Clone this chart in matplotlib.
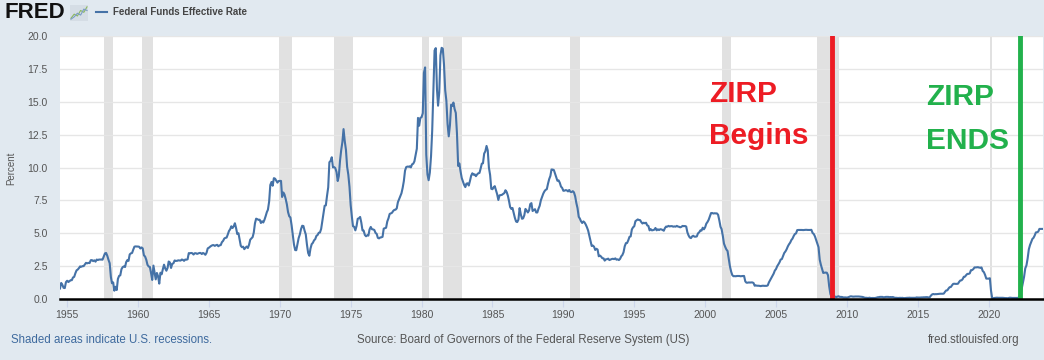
import numpy as np
import pandas as pd
import matplotlib
matplotlib.use("Agg")
import matplotlib.pyplot as plt

# monthly effective fed funds rate, Jul 1954 onwards
rates_1950s = [
    0.80, 1.22, 1.07, 0.85, 0.83, 1.28,
    1.39, 1.29, 1.35, 1.43, 1.43, 1.64, 1.68, 1.96, 2.18, 2.24, 2.35, 2.48,
    2.45, 2.50, 2.50, 2.62, 2.75, 2.71, 2.75, 2.73, 2.95, 2.96, 2.88, 2.94,
    2.84, 3.00, 2.96, 3.00, 3.00, 3.00, 2.99, 3.24, 3.47, 3.50, 3.28, 2.98,
    2.72, 1.67, 1.20, 1.26, 0.63, 0.93, 0.68, 1.53, 1.76, 1.80, 2.27, 2.42,
    2.48, 2.43, 2.80, 2.96, 2.90, 3.39, 3.47, 3.50, 3.76, 3.98, 4.00, 3.99,
]
rates_1960s = [
    3.99, 3.97, 3.84, 3.92, 3.85, 3.32, 3.23, 2.98, 2.60, 2.47, 2.44, 1.98,
    1.45, 2.54, 2.02, 1.49, 1.98, 1.73, 1.17, 2.00, 1.88, 2.26, 2.61, 2.33,
    2.15, 2.37, 2.85, 2.78, 2.36, 2.68, 2.71, 2.93, 2.90, 2.90, 2.94, 2.93,
    2.92, 3.00, 2.98, 2.90, 3.00, 2.99, 3.02, 3.49, 3.48, 3.50, 3.48, 3.38,
    3.48, 3.48, 3.43, 3.47, 3.50, 3.50, 3.42, 3.50, 3.45, 3.36, 3.52, 3.85,
    3.90, 3.98, 4.04, 4.09, 4.10, 4.04, 4.09, 4.12, 4.01, 4.08, 4.10, 4.32,
    4.42, 4.60, 4.65, 4.67, 4.90, 5.17, 5.30, 5.53, 5.40, 5.53, 5.76, 5.40,
    4.94, 5.00, 4.53, 4.05, 3.94, 3.98, 3.79, 3.90, 3.99, 3.88, 4.13, 4.51,
    4.61, 4.71, 5.05, 5.76, 6.11, 6.07, 6.02, 6.03, 5.78, 5.91, 5.82, 6.02,
    6.30, 6.61, 6.79, 7.41, 8.67, 8.90, 8.61, 9.19, 9.15, 9.00, 8.85, 8.97,
]
rates_1970s = [
    8.98, 8.98, 7.76, 8.10, 7.95, 7.61, 7.21, 6.61, 6.29, 6.20, 5.60, 4.90,
    4.14, 3.72, 3.71, 4.16, 4.63, 4.91, 5.31, 5.57, 5.55, 5.20, 4.91, 4.14,
    3.50, 3.29, 3.83, 4.17, 4.27, 4.46, 4.55, 4.80, 4.87, 5.04, 5.06, 5.33,
    5.94, 6.58, 7.09, 7.12, 7.84, 8.49, 10.40, 10.50, 10.78, 10.01, 10.03, 9.95,
    9.65, 8.97, 9.35, 10.51, 11.31, 11.93, 12.92, 12.01, 11.34, 10.06, 9.45, 8.53,
    7.13, 6.24, 5.54, 5.49, 5.22, 5.55, 6.10, 6.14, 6.24, 5.82, 5.22, 5.20,
    4.87, 4.77, 4.84, 4.82, 5.29, 5.48, 5.31, 5.29, 5.25, 5.03, 4.95, 4.65,
    4.61, 4.68, 4.69, 4.73, 5.35, 5.39, 5.42, 5.90, 6.14, 6.47, 6.51, 6.56,
    6.70, 6.78, 6.79, 6.89, 7.36, 7.60, 7.81, 8.04, 8.45, 8.96, 9.76, 10.03,
    10.07, 10.06, 10.09, 10.01, 10.24, 10.29, 10.47, 10.94, 11.43, 13.77, 13.18, 13.78,
]
rates_1980s = [
    13.82, 14.13, 17.19, 17.61, 10.98, 9.47, 9.03, 9.61, 10.87, 12.81, 15.85, 18.90,
    19.08, 15.93, 14.70, 15.72, 18.52, 19.10, 19.04, 17.82, 15.87, 15.08, 13.31, 12.37,
    13.22, 14.78, 14.68, 14.94, 14.45, 14.15, 12.59, 10.12, 10.31, 9.71, 9.20, 8.95,
    8.68, 8.51, 8.77, 8.80, 8.63, 8.98, 9.37, 9.56, 9.45, 9.48, 9.34, 9.47,
    9.56, 9.59, 9.91, 10.29, 10.32, 11.06, 11.23, 11.64, 11.30, 9.99, 9.43, 8.38,
    8.35, 8.50, 8.58, 8.27, 7.97, 7.53, 7.88, 7.90, 7.92, 7.99, 8.05, 8.27,
    8.14, 7.86, 7.48, 6.99, 6.85, 6.92, 6.56, 6.17, 5.89, 5.85, 6.04, 6.91,
    6.43, 6.10, 6.13, 6.37, 6.85, 6.73, 6.58, 6.73, 7.22, 7.29, 6.69, 6.77,
    6.83, 6.58, 6.58, 6.87, 7.09, 7.51, 7.75, 8.01, 8.19, 8.30, 8.35, 8.76,
    9.12, 9.36, 9.85, 9.84, 9.81, 9.53, 9.24, 8.99, 9.02, 8.84, 8.55, 8.45,
]
rates_1990s = [
    8.23, 8.24, 8.28, 8.26, 8.18, 8.29, 8.15, 8.13, 8.20, 8.11, 7.81, 7.31,
    6.91, 6.25, 6.12, 5.91, 5.78, 5.90, 5.82, 5.66, 5.45, 5.21, 4.81, 4.43,
    4.03, 4.06, 3.98, 3.73, 3.82, 3.76, 3.25, 3.30, 3.22, 3.10, 3.09, 2.92,
    3.02, 3.03, 3.07, 2.96, 3.00, 3.04, 3.06, 3.03, 3.09, 2.99, 3.02, 2.96,
    3.05, 3.25, 3.34, 3.56, 4.01, 4.25, 4.26, 4.47, 4.73, 4.76, 5.29, 5.45,
    5.53, 5.92, 5.98, 6.05, 6.01, 6.00, 5.85, 5.74, 5.80, 5.76, 5.80, 5.60,
    5.56, 5.22, 5.31, 5.22, 5.24, 5.27, 5.40, 5.22, 5.30, 5.24, 5.31, 5.29,
    5.25, 5.19, 5.39, 5.51, 5.50, 5.56, 5.52, 5.54, 5.54, 5.50, 5.52, 5.50,
    5.56, 5.51, 5.49, 5.45, 5.49, 5.56, 5.54, 5.55, 5.51, 5.07, 4.83, 4.68,
    4.63, 4.76, 4.81, 4.74, 4.74, 4.76, 4.99, 5.07, 5.22, 5.20, 5.42, 5.30,
]
rates_2000s = [
    5.45, 5.73, 5.85, 6.02, 6.27, 6.53, 6.54, 6.50, 6.52, 6.51, 6.51, 6.40,
    5.98, 5.49, 5.31, 4.80, 4.21, 3.97, 3.77, 3.65, 3.07, 2.49, 2.09, 1.82,
    1.73, 1.74, 1.73, 1.75, 1.75, 1.75, 1.73, 1.74, 1.75, 1.75, 1.34, 1.24,
    1.24, 1.26, 1.25, 1.26, 1.26, 1.22, 1.01, 1.03, 1.01, 1.01, 1.00, 0.98,
    1.00, 1.01, 1.00, 1.00, 1.00, 1.03, 1.26, 1.43, 1.61, 1.76, 1.93, 2.16,
    2.28, 2.50, 2.63, 2.79, 3.00, 3.04, 3.26, 3.50, 3.62, 3.78, 4.00, 4.16,
    4.29, 4.49, 4.59, 4.79, 4.94, 4.99, 5.24, 5.25, 5.25, 5.25, 5.25, 5.24,
    5.25, 5.26, 5.26, 5.25, 5.25, 5.25, 5.26, 5.02, 4.94, 4.76, 4.49, 4.24,
    3.94, 2.98, 2.61, 2.28, 1.98, 2.00, 2.01, 2.00, 1.81, 0.97, 0.39, 0.16,
    0.15, 0.22, 0.18, 0.15, 0.18, 0.21, 0.16, 0.16, 0.15, 0.12, 0.12, 0.12,
]
rates_2010s = [
    0.11, 0.13, 0.16, 0.20, 0.20, 0.18, 0.18, 0.19, 0.19, 0.19, 0.19, 0.18,
    0.17, 0.16, 0.14, 0.10, 0.09, 0.09, 0.07, 0.10, 0.08, 0.07, 0.08, 0.07,
    0.08, 0.10, 0.13, 0.14, 0.16, 0.16, 0.16, 0.13, 0.14, 0.16, 0.16, 0.16,
    0.14, 0.15, 0.14, 0.15, 0.11, 0.09, 0.09, 0.08, 0.08, 0.09, 0.08, 0.09,
    0.07, 0.07, 0.08, 0.09, 0.09, 0.10, 0.09, 0.09, 0.09, 0.09, 0.09, 0.12,
    0.11, 0.11, 0.11, 0.12, 0.12, 0.13, 0.13, 0.14, 0.14, 0.12, 0.12, 0.24,
    0.34, 0.38, 0.36, 0.37, 0.37, 0.38, 0.39, 0.40, 0.40, 0.40, 0.41, 0.54,
    0.65, 0.66, 0.79, 0.90, 0.91, 1.04, 1.15, 1.16, 1.15, 1.15, 1.16, 1.30,
    1.41, 1.42, 1.51, 1.69, 1.70, 1.82, 1.91, 1.91, 1.95, 2.19, 2.20, 2.27,
    2.40, 2.40, 2.41, 2.42, 2.39, 2.38, 2.40, 2.13, 2.04, 1.83, 1.55, 1.55,
]
rates_2020s = [
    1.55, 1.58, 0.65, 0.05, 0.05, 0.08, 0.09, 0.10, 0.09, 0.09, 0.09, 0.09,
    0.09, 0.08, 0.07, 0.07, 0.06, 0.08, 0.10, 0.09, 0.08, 0.08, 0.08, 0.08,
    0.08, 0.08, 0.20, 0.33, 0.77, 1.21, 1.68, 2.33, 2.56, 3.08, 3.78, 4.10,
    4.33, 4.57, 4.65, 4.83, 5.06, 5.08, 5.12, 5.33, 5.33, 5.33, 5.33,
]

recessions = [
    ("1957-08-01", "1958-04-01"), ("1960-04-01", "1961-02-01"),
    ("1969-12-01", "1970-11-01"), ("1973-11-01", "1975-03-01"),
    ("1980-01-01", "1980-07-01"), ("1981-07-01", "1982-11-01"),
    ("1990-07-01", "1991-03-01"), ("2001-03-01", "2001-11-01"),
    ("2007-12-01", "2009-06-01"), ("2020-02-01", "2020-04-01"),
]
zirp_begin = "2008-12-16"
zirp_end = "2022-03-16"
tick_years = list(range(1955, 2025, 5))

rates = (rates_1950s + rates_1960s + rates_1970s + rates_1980s
         + rates_1990s + rates_2000s + rates_2010s + rates_2020s)
dates = pd.date_range("1954-07-01", periods=len(rates), freq="MS")

BG = "#e1e9f0"
fig = plt.figure(figsize=(10.44, 3.6), dpi=100, facecolor=BG)
plt.rcParams["font.family"] = ["Liberation Sans", "DejaVu Sans"]
ax = fig.add_axes([60 / 1044, 1 - 299 / 360, 983 / 1044, 263 / 360])
ax.set_facecolor("white")

for a, b in recessions:
    ax.axvspan(pd.Timestamp(a), pd.Timestamp(b), color="#e1e1e1", lw=0, zorder=0)

ax.plot(dates, rates, color="#4572a7", lw=1.5, zorder=3)

ax.axvline(pd.Timestamp(zirp_begin), color="#ed1c24", lw=3.5, zorder=4)
ax.axvline(pd.Timestamp(zirp_end), color="#22b14c", lw=3.5, zorder=4)

big = dict(fontsize=21.5, fontweight="bold", ha="left", va="baseline", zorder=5)
ax.text(pd.Timestamp("2000-04-01"), 15.0, "ZIRP", color="#ed1c24", **big)
ax.text(pd.Timestamp("2000-04-01"), 11.8, "Begins", color="#ed1c24", **big)
ax.text(pd.Timestamp("2015-08-01"), 14.75, "ZIRP", color="#22b14c", **big)
ax.text(pd.Timestamp("2015-08-01"), 11.4, "ENDS", color="#22b14c", **big)

ax.set_xlim(dates[0], dates[-1])
ax.set_ylim(0, 20)
yt = np.arange(0, 20.1, 2.5)
ax.set_yticks(yt)
ax.set_yticklabels([f"{v:.1f}" for v in yt])
ax.set_xticks([pd.Timestamp(f"{y}-01-01") for y in tick_years])
ax.set_xticklabels([str(y) for y in tick_years])
ax.grid(axis="y", color="#e6e6e6", lw=1)
ax.set_axisbelow(True)
ax.tick_params(axis="y", length=0, pad=9, labelsize=7.5, labelcolor="#555555")
ax.tick_params(axis="x", length=6, color="#ccd6eb", pad=2, labelsize=7.5, labelcolor="#555555")
for s in ["top", "right", "left"]:
    ax.spines[s].set_visible(False)
ax.spines["bottom"].set_color("black")
ax.spines["bottom"].set_linewidth(1.8)
ax.spines["bottom"].set_zorder(6)

fig.text(11 / 1044, 1 - 168 / 360, "Percent", rotation=90, fontsize=7,
         color="#555555", ha="center", va="center")

# header
fig.text(4 / 1044, 1 - 13 / 360, "FRED", fontsize=16, fontweight="bold",
         color="#111111", ha="left", va="center")
icon = fig.add_axes([70 / 1044, 1 - 21 / 360, 18 / 1044, 16 / 360])
icon.set_facecolor("#d5dde5")
icon.plot([0, 1, 2, 3, 4, 5], [0.3, 1.2, 0.8, 2.0, 1.6, 2.8], color="#8cb860", lw=0.8)
icon.plot([0, 1, 2, 3, 4, 5], [0.1, 0.6, 1.4, 1.0, 2.3, 2.0], color="#7a9cc6", lw=0.8)
icon.set_xlim(-0.3, 5.3)
icon.set_ylim(-0.3, 3.2)
icon.set_xticks([])
icon.set_yticks([])
for s in icon.spines.values():
    s.set_visible(False)
fig.lines.append(plt.Line2D([96 / 1044, 107 / 1044], [1 - 12 / 360, 1 - 12 / 360],
                            color="#4572a7", lw=1.5, transform=fig.transFigure))
fig.text(113 / 1044, 1 - 12 / 360, "Federal Funds Effective Rate", fontsize=7,
         fontweight="bold", color="#444444", ha="left", va="center")

# footer
foot = dict(fontsize=8.3, va="center")
fig.text(11 / 1044, 1 - 340 / 360, "Shaded areas indicate U.S. recessions.",
         color="#3e6a9e", ha="left", **foot)
fig.text(523 / 1044, 1 - 340 / 360, "Source: Board of Governors of the Federal Reserve System (US)",
         color="#555555", ha="center", **foot)
fig.text(1019 / 1044, 1 - 340 / 360, "fred.stlouisfed.org",
         color="#555555", ha="right", **foot)

fig.savefig("out.png", dpi=100, facecolor=BG)
